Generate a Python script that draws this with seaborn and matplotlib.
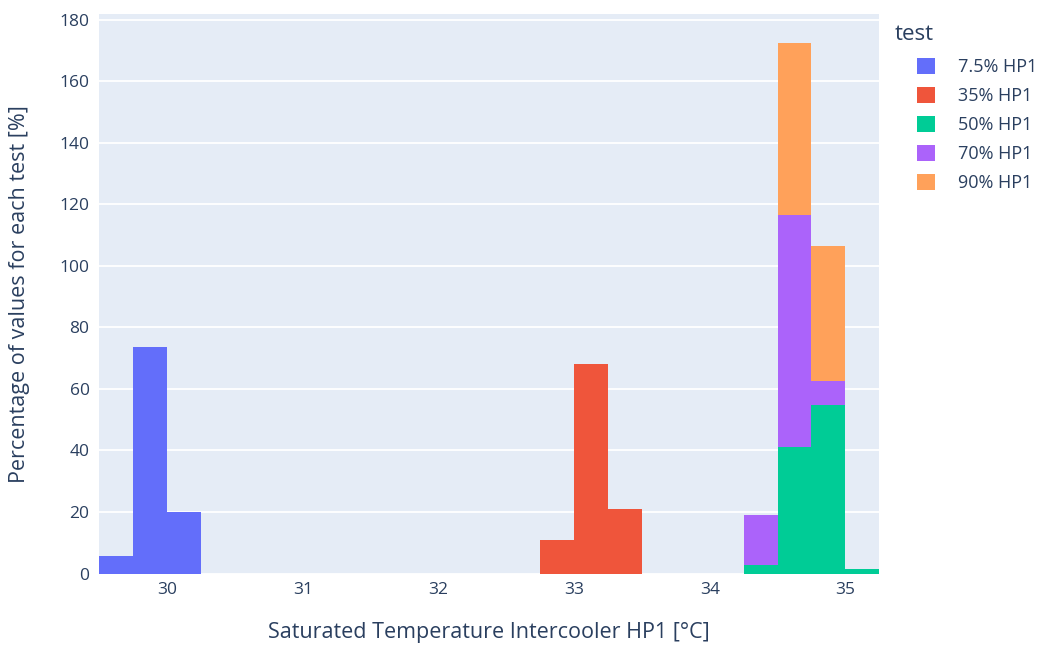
import numpy as np
import pandas as pd
import seaborn as sns
import matplotlib
matplotlib.use("Agg")
import matplotlib.pyplot as plt
from matplotlib.patches import Patch

# Histogram bins (lower edges, width 0.25 °C) and percentage of values per test
tests = ["7.5% HP1", "35% HP1", "50% HP1", "70% HP1", "90% HP1"]
colors = ["#636EFA", "#EF553B", "#00CC96", "#AB63FA", "#FFA15A"]

bins_75 = [29.50, 29.75, 30.00]
pct_75 = [5.8, 73.6, 20.0]

bins_35 = [32.75, 33.00, 33.25]
pct_35 = [10.9, 68.0, 21.1]

bins_50 = [34.25, 34.50, 34.75, 35.00]
pct_50 = [2.7, 41.1, 54.8, 1.4]

bins_70 = [34.25, 34.50, 34.75]
pct_70 = [16.2, 75.6, 7.8]

bins_90 = [34.50, 34.75]
pct_90 = [55.8, 44.0]

bin_width = 0.25
x_range = (29.5, 35.25)
x_ticks = [30, 31, 32, 33, 34, 35]
y_ticks = [0, 20, 40, 60, 80, 100, 120, 140, 160, 180]

series = {
    "7.5% HP1": (bins_75, pct_75),
    "35% HP1": (bins_35, pct_35),
    "50% HP1": (bins_50, pct_50),
    "70% HP1": (bins_70, pct_70),
    "90% HP1": (bins_90, pct_90),
}

rows = []
for name, (lo, pct) in series.items():
    for b, p in zip(lo, pct):
        rows.append({"temp": b + bin_width / 2, "pct": p, "test": name})
df = pd.DataFrame(rows)

sns.set_theme(style="darkgrid")
plt.rcParams["font.family"] = ["Open Sans", "DejaVu Sans"]

fig = plt.figure(figsize=(10.4, 6.46), dpi=100)
ax = fig.add_axes([0.0955, 0.1122, 0.7500, 0.8657])
ax.set_facecolor("#E5ECF6")

# seaborn stacks the first hue level on top, so pass the order reversed
palette = dict(zip(tests, colors))
sns.histplot(
    data=df, x="temp", weights="pct", hue="test",
    hue_order=tests[::-1], palette=palette,
    binwidth=bin_width, binrange=x_range, multiple="stack",
    element="bars", alpha=1.0, linewidth=0, ax=ax, legend=False,
)

ax.set_xlim(*x_range)
ax.set_ylim(0, 181.8)
ax.set_xticks(x_ticks)
ax.set_yticks(y_ticks)
ax.grid(axis="x", visible=False)
ax.grid(axis="y", color="white", linewidth=1.3)
ax.set_axisbelow(True)
for s in ax.spines.values():
    s.set_visible(False)

tick_color = "#2a3f5f"
ax.tick_params(axis="both", colors=tick_color, labelsize=12.5, length=0)
ax.tick_params(axis="x", pad=6)
ax.tick_params(axis="y", pad=7)
ax.set_xlabel("Saturated Temperature Intercooler HP1 [°C]", fontsize=15.5,
              color=tick_color, va="center")
ax.set_ylabel("Percentage of values for each test [%]", fontsize=15.5,
              color=tick_color, va="center")
ax.xaxis.set_label_coords(0.5, -0.1055)
ax.yaxis.set_label_coords(-0.1017, 0.5)

# Legend: title on its own, entries indented below it
fig.text(895 / 1040, 1 - 35 / 646, "test", fontsize=16, color=tick_color,
         ha="left", va="center")
handles = [Patch(facecolor=c, edgecolor="none") for c in colors]
leg = fig.legend(handles, tests, loc="upper left",
                 bbox_to_anchor=(917 / 1040, 1 - 58 / 646), frameon=False,
                 fontsize=13, handlelength=1.0, handleheight=1.0,
                 handletextpad=1.27, labelspacing=0.59,
                 borderpad=0, borderaxespad=0)
for t in leg.get_texts():
    t.set_color(tick_color)

fig.savefig("out.png", dpi=100, facecolor="white")
